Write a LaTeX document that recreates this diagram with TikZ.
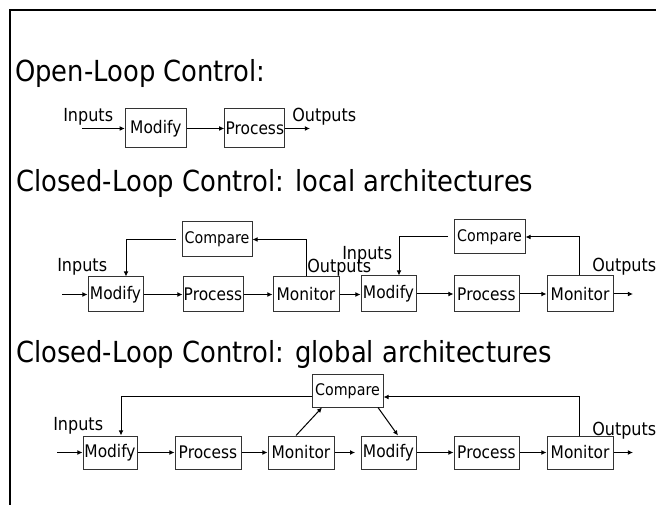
\documentclass[tikz,border=0pt]{standalone}
\usepackage{fontspec}
\setmainfont{DejaVu Sans}[FakeStretch=0.89]
\usetikzlibrary{arrows.meta}
\newcommand{\fsTitle}{\fontsize{21.75pt}{24pt}\selectfont}
\newcommand{\fsLab}{\fontsize{13.5pt}{15pt}\selectfont}
\newcommand{\fsBox}{\fontsize{13pt}{15pt}\selectfont}
\newcommand{\fsCmp}{\fontsize{12pt}{14pt}\selectfont}
\begin{document}
\begin{tikzpicture}[x=0.75pt,y=-0.75pt,
  blk/.style={draw=black!80,line width=0.75pt,inner sep=0pt,font=\fsBox},
  sz/.style 2 args={minimum width={#1*0.75pt},minimum height={#2*0.75pt}},
  cmpblk/.style={blk,font=\fsCmp},
  lab/.style={inner sep=0pt,anchor=base west,font=\fsLab},
  ttl/.style={inner sep=0pt,anchor=base west,font=\fsTitle},
  arr/.style={-{Latex[length=3.8pt,width=3.6pt]},line width=0.75pt}]
\useasboundingbox (0,0) rectangle (656,505);
% frame
\draw[line width=1.9pt] (10,505) -- (10,10) -- (656,10);
% titles
\node[ttl] (t1) at (15,82) {Open-Loop Control:};
\node[ttl] (t2) at (16,192) {Closed-Loop Control: local architectures};
\node[ttl] (t3) at (16,363) {Closed-Loop Control: global architectures};

% ---- section 1
\node[blk,sz={61}{39}] (m1) at (155.8,128.5) {Modify};
\node[blk,sz={60}{39}] (p1) at (254.8,128.5) {Process};
\node[lab] (i1) at (63,122) {Inputs};
\node[lab] (o1) at (292,122) {Outputs};
\coordinate (in1) at (82,128.5);
\coordinate (out1) at (310,128.5);
\draw[arr] (in1) -- (m1.west);
\draw[arr] (m1.east) -- (p1.west);
\draw[arr] (p1.east) -- (out1);

% ---- section 2
\node[blk,sz={55}{35}] (m2a) at (115.5,294.5) {Modify};
\node[blk,sz={60}{35}] (p2a) at (213,294.5) {Process};
\node[blk,sz={66}{35}] (n2a) at (306,294.5) {Monitor};
\node[cmpblk,sz={70}{35}] (c2a) at (217,239.5) {Compare};
\node[blk,sz={55}{36}] (m2b) at (388.5,294) {Modify};
\node[blk,sz={65}{36}] (p2b) at (486.5,294) {Process};
\node[blk,sz={66}{36}] (n2b) at (580,294) {Monitor};
\node[cmpblk,sz={71}{34}] (c2b) at (489.5,237) {Compare};
\node[lab] (i2a) at (57,272) {Inputs};
\node[lab] (o2a) at (307,273) {Outputs};
\node[lab] (i2b) at (342,260) {Inputs};
\node[lab] (o2b) at (592,272) {Outputs};
\coordinate (in2) at (62,294.5);
\coordinate (out2) at (633,294);
\coordinate (fr2a) at (306,0);
\coordinate (fl2a) at (126,0);
\coordinate (fr2b) at (579,0);
\coordinate (fl2b) at (399,0);
\draw[arr] (in2) -- (m2a.west);
\draw[arr] (m2a.east) -- (p2a.west);
\draw[arr] (p2a.east) -- (n2a.west);
\draw[arr] (n2a.east) -- (m2b.west |- n2a.east);
\draw[arr] (m2b.east) -- (p2b.west);
\draw[arr] (p2b.east) -- (n2b.west);
\draw[arr] (n2b.east) -- (out2);
\draw[arr] (n2a.north -| fr2a) |- (c2a.east);
\draw[arr,shorten <=4.5pt] (c2a.west) -| (m2a.north -| fl2a);
\draw[arr] (n2b.north -| fr2b) |- (c2b.east);
\draw[arr,shorten <=4pt] (c2b.west) -| (m2b.north -| fl2b);

% ---- section 3
\node[blk,sz={54}{33}] (m3a) at (110,452.5) {Modify};
\node[blk,sz={66}{33}] (p3a) at (208,452.5) {Process};
\node[blk,sz={66}{33}] (n3a) at (301,452.5) {Monitor};
\node[blk,sz={55}{33}] (m3b) at (388.5,452.5) {Modify};
\node[blk,sz={65}{33}] (p3b) at (486.5,452.5) {Process};
\node[blk,sz={66}{33}] (n3b) at (580,452.5) {Monitor};
\node[cmpblk,sz={71}{32}] (c3) at (347.5,391) {Compare};
\node[lab] (i3) at (53,431) {Inputs};
\node[lab] (o3) at (592,435) {Outputs};
\coordinate (in3) at (57,452.5);
\coordinate (out3) at (633,452.5);
\coordinate (r3) at (579,397);
\coordinate (l3) at (121,397);
\coordinate (d1s) at (296,0);
\coordinate (d1e) at (322,0);
\coordinate (d2s) at (378,0);
\coordinate (d2e) at (398,0);
\draw[arr] (in3) -- (m3a.west);
\draw[arr] (m3a.east) -- (p3a.west);
\draw[arr] (p3a.east) -- (n3a.west);
\draw[arr,shorten >=4pt] (n3a.east) -- (m3b.west);
\draw[arr] (m3b.east) -- (p3b.west);
\draw[arr] (p3b.east) -- (n3b.west);
\draw[arr] (n3b.east) -- (out3);
\draw[arr] (n3b.north -| r3) |- (c3.east |- r3);
\draw[arr] (c3.west |- l3) -| (m3a.north -| l3);
\draw[arr] (n3a.north -| d1s) -- (c3.south -| d1e);
\draw[arr] (c3.south -| d2s) -- (m3b.north -| d2e);
\end{tikzpicture}
\end{document}
